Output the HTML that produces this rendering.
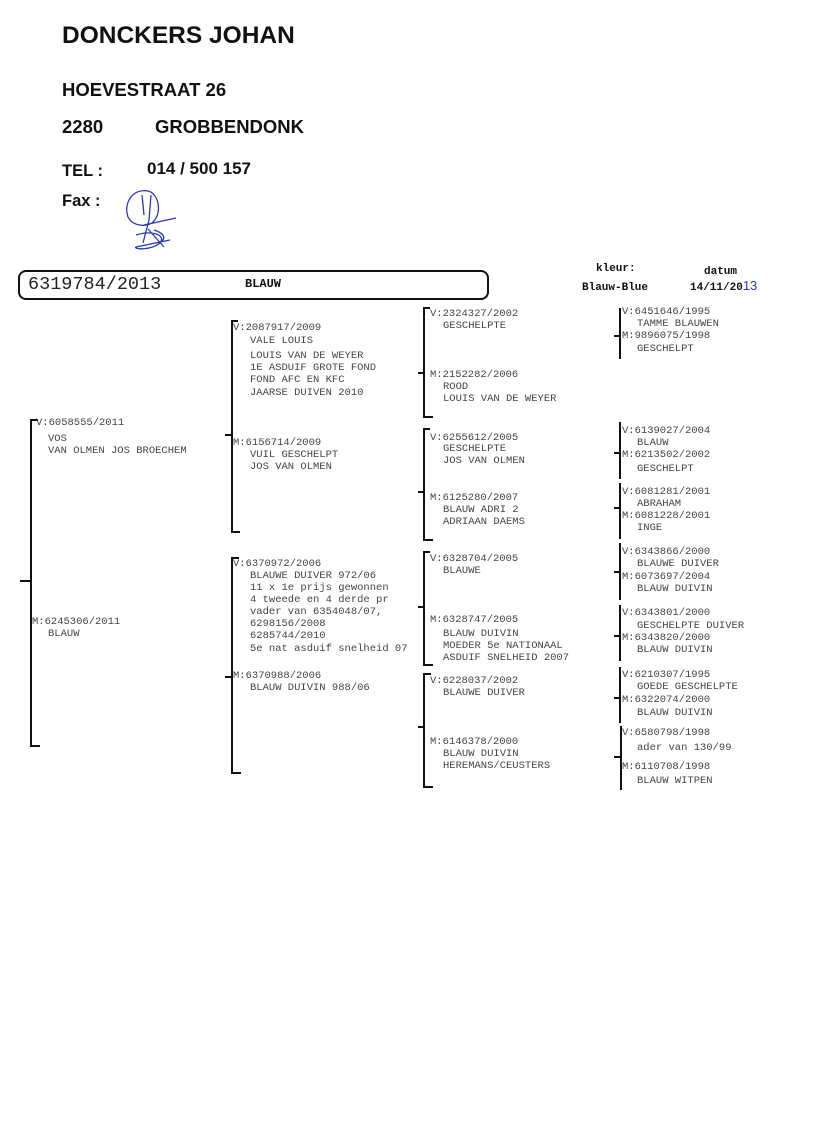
<!DOCTYPE html>
<html><head><meta charset="utf-8"><style>
body{margin:0;background:#fff;}
#p{position:relative;width:816px;height:1130px;overflow:hidden;background:#fff;}
.h{position:absolute;font-family:"Liberation Sans",sans-serif;font-weight:bold;color:#111;white-space:nowrap;}
.t{position:absolute;font-family:"Liberation Mono",monospace;font-size:10.5px;line-height:12px;color:#444;white-space:nowrap;}
.l{position:absolute;background:#111;}
</style></head><body><div id="p">
<div class="h" style="left:62px;top:22px;font-size:24.5px">DONCKERS JOHAN</div>
<div class="h" style="left:62px;top:79px;font-size:18.5px">HOEVESTRAAT 26</div>
<div class="h" style="left:62px;top:116px;font-size:18.5px">2280</div>
<div class="h" style="left:155px;top:116px;font-size:18.5px">GROBBENDONK</div>
<div class="h" style="left:62px;top:162px;font-size:16.5px">TEL :</div>
<div class="h" style="left:147px;top:159px;font-size:17px">014 / 500 157</div>
<div class="h" style="left:62px;top:192px;font-size:16.5px">Fax :</div>
<svg style="position:absolute;left:118px;top:185px" width="70" height="70" viewBox="0 0 70 70" fill="none" stroke="#2a3aa8" stroke-width="1.3">
<path d="M30 6 C15 3 5 18 10 32 C15 42 30 42 35 37 C45 27 40 8 30 6 M24 10 L26 30 M33 10 L31 35 L25 58 M26 40 L58 33 M18 50 C35 45 48 50 42 58 C32 66 15 64 18 62 L52 55 M30 44 L46 62 M36 45 C45 48 48 52 44 56"/>
</svg>
<div style="position:absolute;left:18px;top:270px;width:467px;height:26px;border:2px solid #111;border-radius:8px"></div>
<div class="t" style="left:28px;top:275px;font-size:18.5px;line-height:19px;color:#222">6319784/2013</div>
<div class="t" style="left:245px;top:278px;font-size:12px;font-weight:bold;color:#111">BLAUW</div>
<div class="t" style="left:596px;top:263px;font-size:11px;font-weight:bold;color:#111">kleur:</div>
<div class="t" style="left:582px;top:282px;font-size:11px;font-weight:bold;color:#111">Blauw-Blue</div>
<div class="t" style="left:704px;top:266px;font-size:11px;font-weight:bold;color:#111">datum</div>
<div class="t" style="left:690px;top:280px;font-size:11px;font-weight:bold;color:#111">14/11/20<span style="color:#2a3aa8;font-family:'Liberation Sans',sans-serif;font-weight:normal;font-size:13px">13</span></div>

<div class="l" style="left:30px;top:419px;width:2px;height:328px"></div>
<div class="l" style="left:30px;top:419px;width:8px;height:2px"></div>
<div class="l" style="left:30px;top:745px;width:10px;height:2px"></div>
<div class="l" style="left:20px;top:580px;width:11px;height:2px"></div>
<div class="l" style="left:231px;top:320px;width:2px;height:213px"></div>
<div class="l" style="left:231px;top:320px;width:7px;height:2px"></div>
<div class="l" style="left:231px;top:531px;width:9px;height:2px"></div>
<div class="l" style="left:225px;top:434px;width:7px;height:2px"></div>
<div class="l" style="left:231px;top:557px;width:2px;height:217px"></div>
<div class="l" style="left:231px;top:557px;width:8px;height:2px"></div>
<div class="l" style="left:231px;top:772px;width:10px;height:2px"></div>
<div class="l" style="left:225px;top:676px;width:7px;height:2px"></div>
<div class="l" style="left:423px;top:307px;width:2px;height:111px"></div>
<div class="l" style="left:423px;top:307px;width:7px;height:2px"></div>
<div class="l" style="left:423px;top:416px;width:10px;height:2px"></div>
<div class="l" style="left:418px;top:372px;width:6px;height:2px"></div>
<div class="l" style="left:423px;top:428px;width:2px;height:113px"></div>
<div class="l" style="left:423px;top:428px;width:7px;height:2px"></div>
<div class="l" style="left:423px;top:539px;width:10px;height:2px"></div>
<div class="l" style="left:418px;top:491px;width:6px;height:2px"></div>
<div class="l" style="left:423px;top:551px;width:2px;height:115px"></div>
<div class="l" style="left:423px;top:551px;width:7px;height:2px"></div>
<div class="l" style="left:423px;top:664px;width:10px;height:2px"></div>
<div class="l" style="left:418px;top:606px;width:6px;height:2px"></div>
<div class="l" style="left:423px;top:673px;width:2px;height:115px"></div>
<div class="l" style="left:423px;top:673px;width:8px;height:2px"></div>
<div class="l" style="left:423px;top:786px;width:10px;height:2px"></div>
<div class="l" style="left:418px;top:726px;width:6px;height:2px"></div>
<div class="l" style="left:619px;top:308px;width:2px;height:51px"></div>
<div class="l" style="left:614px;top:335px;width:6px;height:2px"></div>
<div class="l" style="left:619px;top:422px;width:2px;height:57px"></div>
<div class="l" style="left:614px;top:452px;width:6px;height:2px"></div>
<div class="l" style="left:619px;top:483px;width:2px;height:56px"></div>
<div class="l" style="left:614px;top:507px;width:6px;height:2px"></div>
<div class="l" style="left:619px;top:543px;width:2px;height:57px"></div>
<div class="l" style="left:614px;top:571px;width:6px;height:2px"></div>
<div class="l" style="left:619px;top:605px;width:2px;height:56px"></div>
<div class="l" style="left:614px;top:635px;width:6px;height:2px"></div>
<div class="l" style="left:619px;top:667px;width:2px;height:56px"></div>
<div class="l" style="left:614px;top:697px;width:6px;height:2px"></div>
<div class="l" style="left:620px;top:726px;width:2px;height:64px"></div>
<div class="l" style="left:614px;top:756px;width:6px;height:2px"></div>

<div class="t" style="left:36px;top:417px">V:6058555/2011</div>
<div class="t" style="left:48px;top:433px">VOS</div>
<div class="t" style="left:48px;top:445px">VAN OLMEN JOS BROECHEM</div>
<div class="t" style="left:32px;top:616px">M:6245306/2011</div>
<div class="t" style="left:48px;top:628px">BLAUW</div>

<div class="t" style="left:233px;top:322px">V:2087917/2009</div>
<div class="t" style="left:250px;top:335px">VALE LOUIS</div>
<div class="t" style="left:250px;top:350px">LOUIS VAN DE WEYER</div>
<div class="t" style="left:250px;top:362px">1E ASDUIF GROTE FOND</div>
<div class="t" style="left:250px;top:374px">FOND AFC  EN  KFC</div>
<div class="t" style="left:250px;top:387px">JAARSE DUIVEN 2010</div>
<div class="t" style="left:233px;top:437px">M:6156714/2009</div>
<div class="t" style="left:250px;top:449px">VUIL GESCHELPT</div>
<div class="t" style="left:250px;top:461px">JOS VAN OLMEN</div>

<div class="t" style="left:233px;top:558px">V:6370972/2006</div>
<div class="t" style="left:250px;top:570px">BLAUWE DUIVER 972/06</div>
<div class="t" style="left:250px;top:582px">11 x   1e prijs gewonnen</div>
<div class="t" style="left:250px;top:594px">4 tweede en 4 derde pr</div>
<div class="t" style="left:250px;top:606px">vader van 6354048/07,</div>
<div class="t" style="left:250px;top:618px">6298156/2008</div>
<div class="t" style="left:250px;top:630px">6285744/2010</div>
<div class="t" style="left:250px;top:643px">5e nat asduif snelheid 07</div>
<div class="t" style="left:233px;top:670px">M:6370988/2006</div>
<div class="t" style="left:250px;top:682px">BLAUW DUIVIN 988/06</div>

<div class="t" style="left:430px;top:308px">V:2324327/2002</div>
<div class="t" style="left:443px;top:320px">GESCHELPTE</div>
<div class="t" style="left:430px;top:369px">M:2152282/2006</div>
<div class="t" style="left:443px;top:381px">ROOD</div>
<div class="t" style="left:443px;top:393px">LOUIS VAN DE WEYER</div>
<div class="t" style="left:430px;top:432px">V:6255612/2005</div>
<div class="t" style="left:443px;top:443px">GESCHELPTE</div>
<div class="t" style="left:443px;top:455px">JOS VAN OLMEN</div>
<div class="t" style="left:430px;top:492px">M:6125280/2007</div>
<div class="t" style="left:443px;top:504px">BLAUW   ADRI 2</div>
<div class="t" style="left:443px;top:516px">ADRIAAN DAEMS</div>
<div class="t" style="left:430px;top:553px">V:6328704/2005</div>
<div class="t" style="left:443px;top:565px">BLAUWE</div>
<div class="t" style="left:430px;top:614px">M:6328747/2005</div>
<div class="t" style="left:443px;top:628px">BLAUW DUIVIN</div>
<div class="t" style="left:443px;top:640px">MOEDER 5e NATIONAAL</div>
<div class="t" style="left:443px;top:652px">ASDUIF SNELHEID 2007</div>
<div class="t" style="left:430px;top:675px">V:6228037/2002</div>
<div class="t" style="left:443px;top:687px">BLAUWE DUIVER</div>
<div class="t" style="left:430px;top:736px">M:6146378/2000</div>
<div class="t" style="left:443px;top:748px">BLAUW DUIVIN</div>
<div class="t" style="left:443px;top:760px">HEREMANS/CEUSTERS</div>

<div class="t" style="left:622px;top:306px">V:6451646/1995</div>
<div class="t" style="left:637px;top:318px">TAMME BLAUWEN</div>
<div class="t" style="left:622px;top:330px">M:9896075/1998</div>
<div class="t" style="left:637px;top:343px">GESCHELPT</div>
<div class="t" style="left:622px;top:425px">V:6139027/2004</div>
<div class="t" style="left:637px;top:437px">BLAUW</div>
<div class="t" style="left:622px;top:449px">M:6213502/2002</div>
<div class="t" style="left:637px;top:463px">GESCHELPT</div>
<div class="t" style="left:622px;top:486px">V:6081281/2001</div>
<div class="t" style="left:637px;top:498px">ABRAHAM</div>
<div class="t" style="left:622px;top:510px">M:6081228/2001</div>
<div class="t" style="left:637px;top:522px">INGE</div>
<div class="t" style="left:622px;top:546px">V:6343866/2000</div>
<div class="t" style="left:637px;top:558px">BLAUWE DUIVER</div>
<div class="t" style="left:622px;top:571px">M:6073697/2004</div>
<div class="t" style="left:637px;top:583px">BLAUW DUIVIN</div>
<div class="t" style="left:622px;top:607px">V:6343801/2000</div>
<div class="t" style="left:637px;top:620px">GESCHELPTE DUIVER</div>
<div class="t" style="left:622px;top:632px">M:6343820/2000</div>
<div class="t" style="left:637px;top:644px">BLAUW DUIVIN</div>
<div class="t" style="left:622px;top:669px">V:6210307/1995</div>
<div class="t" style="left:637px;top:681px">GOEDE GESCHELPTE</div>
<div class="t" style="left:622px;top:694px">M:6322074/2000</div>
<div class="t" style="left:637px;top:707px">BLAUW DUIVIN</div>
<div class="t" style="left:622px;top:727px">V:6580798/1998</div>
<div class="t" style="left:637px;top:742px">ader van 130/99</div>
<div class="t" style="left:622px;top:761px">M:6110708/1998</div>
<div class="t" style="left:637px;top:775px">BLAUW WITPEN</div>
</div></body></html>
